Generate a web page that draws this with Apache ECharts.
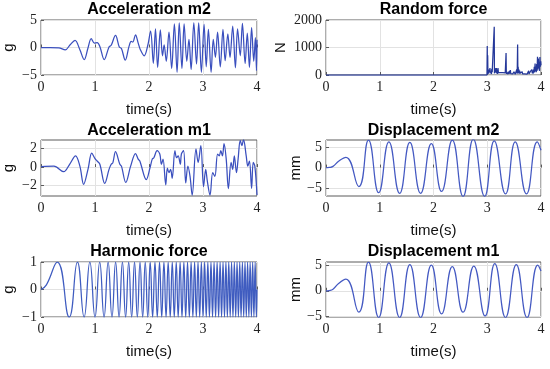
<!DOCTYPE html>
<html><head><meta charset="utf-8">
<script src="https://cdn.jsdelivr.net/npm/echarts@6/dist/echarts.min.js"></script>
<style>html,body{margin:0;padding:0;background:#fff}#c{width:550px;height:369px}</style>
</head><body><div id="c"></div>
<script>
// ---------------- data ----------------
const timeTicks = [0, 1, 2, 3, 4];

const accM2 = [[0,0],[0.17,0],[0.33,-0.05],[0.45,-0.43],[0.54,0.5],[0.63,1.3],[0.72,-0.4],[0.80,-2.2],[0.87,-0.1],[0.93,1.6],[0.99,0.8],[1.04,0.9],[1.09,0.2],[1.17,-2.2],[1.26,0.1],[1.30,0.4],[1.38,2.2],[1.45,0.1],[1.49,-0.2],[1.56,-2.3],[1.63,0.2],[1.67,1.1],[1.70,1.0],[1.75,2.3],[1.80,0.8],[1.84,-0.4],[1.91,-1.5],[1.98,0.5],
 [2.03,3.0],[2.08,-2.9],[2.12,3.4],[2.16,-3.6],[2.21,3.2],[2.25,-1.5],[2.28,0.5],[2.32,-2.5],[2.37,2.8],[2.42,-3.8],[2.47,4.3],[2.52,-4.5],[2.56,4.5],[2.61,-3.8],[2.65,4.3],[2.70,-2.5],[2.74,1.5],[2.78,-4.0],[2.83,4.5],[2.88,-3.0],[2.92,4.5],[2.97,-4.5],[3.02,4.2],[3.06,-3.5],[3.10,3.3],[3.15,-4.5],[3.19,1.5],[3.23,-1.8],[3.27,2.8],[3.32,-3.5],[3.37,3.3],[3.41,-2.4],[3.46,2.5],[3.50,-1.8],[3.55,3.9],[3.60,-3.7],[3.64,3.4],[3.69,-1.5],[3.73,4.4],[3.78,-2.9],[3.82,2.6],[3.86,-3.6],[3.90,3.6],[3.94,-2.5],[3.97,1.8],[3.99,-4.2],[4.0,1.4]];

const accM1 = [[0,0.05],[0.24,0.1],[0.42,-0.5],[0.53,0.3],[0.64,1.2],[0.72,0.1],[0.79,-1.85],[0.87,-0.25],[0.94,1.5],[1.0,0.9],[1.04,0.65],[1.09,0.3],[1.18,-1.75],[1.26,-0.25],[1.30,0.3],[1.33,0.45],[1.38,1.65],[1.46,0.3],[1.49,0.1],[1.57,-1.65],[1.66,0.1],[1.75,1.45],[1.80,0.85],[1.83,0.65],[1.95,-1.35],[2.02,-0.05],[2.06,0.85],[2.09,1.0],[2.15,1.75],[2.20,1.4],[2.23,0.3],[2.26,0.85],[2.31,-1.9],[2.34,-0.1],[2.37,-0.6],[2.40,-0.25],[2.43,-1.2],[2.48,1.75],[2.51,1.0],[2.54,1.2],[2.58,0.3],[2.60,1.4],[2.64,1.75],[2.68,-1.7],[2.72,0.1],[2.76,-1.0],[2.80,-3.0],[2.87,1.95],[2.91,0.5],[2.96,2.3],[3.01,-2.1],[3.05,-0.25],[3.08,-1.5],[3.13,-3.0],[3.18,-0.6],[3.22,-1.0],[3.27,1.4],[3.30,1.2],[3.33,1.75],[3.36,1.2],[3.39,2.5],[3.43,0.85],[3.47,-2.3],[3.52,0.5],[3.55,-0.25],[3.58,1.2],[3.62,-0.6],[3.65,0.85],[3.69,2.85],[3.72,2.3],[3.75,2.95],[3.80,1.2],[3.83,0.1],[3.86,0.65],[3.90,-2.3],[3.93,0.5],[3.96,0.1],[4.0,-3.0]];

const randomForce = [[0,0],[2.995,0],[3.0,1050],[3.004,80],[3.008,720],[3.013,40],[3.02,150],[3.028,60],[3.035,200],[3.042,90],[3.05,250],[3.057,120],[3.063,60],[3.07,180],[3.078,40],[3.085,230],[3.092,100],[3.1,60],[3.107,150],[3.115,50],[3.122,120],[3.13,1750],[3.134,60],[3.14,250],[3.147,100],[3.155,240],[3.162,80],[3.17,250],[3.177,60],[3.185,200],[3.192,40],[3.2,250],[3.207,90],[3.215,130],[3.222,40],[3.23,110],[3.237,60],[3.245,90],[3.252,30],[3.26,120],[3.267,50],[3.275,160],[3.282,40],[3.29,90],[3.297,30],[3.305,100],[3.312,60],[3.32,150],[3.327,40],[3.335,80],[3.342,30],[3.35,800],[3.355,40],[3.362,120],[3.37,50],[3.377,90],[3.385,30],[3.392,60],[3.4,120],[3.407,40],[3.415,150],[3.422,60],[3.43,180],[3.437,50],[3.445,90],[3.452,30],[3.46,60],[3.467,100],[3.475,40],[3.482,70],[3.49,30],[3.497,120],[3.505,50],[3.512,80],[3.52,30],[3.527,90],[3.535,40],[3.542,70],[3.55,200],[3.557,50],[3.565,1110],[3.57,60],[3.575,300],[3.582,80],[3.59,200],[3.597,50],[3.605,150],[3.612,60],[3.62,130],[3.627,40],[3.635,100],[3.642,30],[3.65,120],[3.657,40],[3.665,90],[3.672,30],[3.68,60],[3.687,100],[3.695,40],[3.702,70],[3.71,30],[3.717,90],[3.725,40],[3.732,60],[3.74,30],[3.747,80],[3.755,40],[3.762,60],[3.77,150],[3.777,40],[3.785,90],[3.792,30],[3.8,120],[3.807,50],[3.815,180],[3.822,60],[3.83,200],[3.837,70],[3.845,150],[3.852,50],[3.86,200],[3.867,80],[3.875,300],[3.882,100],[3.89,420],[3.897,150],[3.905,250],[3.912,100],[3.92,400],[3.927,150],[3.935,660],[3.942,200],[3.95,600],[3.957,250],[3.965,450],[3.972,150],[3.98,650],[3.987,300],[3.995,500],[4.0,350]];

const dispM2 = [[0,0],[0.06,0.05],[0.13,0.3],[0.24,1.6],[0.37,2.5],[0.61,-4.6],[0.79,6.7],[0.98,-6.1],[1.17,6.25],[1.37,-6.25],[1.56,6.1],[1.76,-6.25],[1.96,5.8],[2.15,-5.8],[2.35,6.7],[2.55,-7.0],[2.74,6.9],[2.95,-7.0],[3.13,6.5],[3.34,-6.4],[3.52,6.25],[3.73,-6.4],[3.93,6.25],[4.0,4.2]];

const dispM1 = [[0,0],[0.06,0.05],[0.13,0.3],[0.24,1.5],[0.37,2.3],[0.61,-4.25],[0.79,5.7],[0.98,-5.3],[1.17,5.55],[1.37,-5.3],[1.56,5.2],[1.76,-5.3],[1.96,5.1],[2.15,-4.6],[2.35,4.8],[2.55,-4.25],[2.75,4.9],[2.96,-5.0],[3.14,5.4],[3.34,-5.3],[3.54,5.2],[3.74,-5.3],[3.94,5.1],[4.0,3.9]];

const harmonicT = [0,0.1,
 0.3015,0.5222,0.6742,0.7977,0.9045,1.0,1.0871,1.1677,1.2432,1.3143,
 1.3817,1.4460,1.5076,1.5667,1.6237,1.6787,1.7321,1.7838,1.8340,1.8829,
 1.9306,1.9772,2.0226,2.0671,2.1106,2.1532,2.1950,2.2361,2.2764,2.3159,
 2.3549,2.3932,2.4309,2.4680,2.5045,2.5406,2.5761,2.6112,2.6458,2.6799,
 2.7136,2.7469,2.7798,2.8123,2.8445,2.8762,2.9077,2.9388,2.9695,3.0,
 3.0301,3.0600,3.0896,3.1189,3.1479,3.1766,3.2051,3.2333,3.2613,3.2891,
 3.3166,3.3439,3.3710,3.3979,3.4245,3.4510,3.4772,3.5033,3.5291,3.5548,
 3.5803,3.6056,3.6307,3.6556,3.6804,3.7050,3.7295,3.7538,3.7779,3.8019,
 3.8257,3.8494,3.8730,3.8964,3.9197,3.9428,3.9658,3.9886,4.0];
const harmonicV = [0,0.17,
 1,-1,1,-1,1,-1,1,-1,1,-1,
 1,-1,1,-1,1,-1,1,-1,1,-1,
 1,-1,1,-1,1,-1,1,-1,1,-1,
 1,-1,1,-1,1,-1,1,-1,1,-1,
 1,-1,1,-1,1,-1,1,-1,1,-1,
 1,-1,1,-1,1,-1,1,-1,1,-1,
 1,-1,1,-1,1,-1,1,-1,1,-1,
 1,-1,1,-1,1,-1,1,-1,1,-1,
 1,-1,1,-1,1,-1,1,-1,0];

// y tick labels per panel
const ticksAccM2 = [-5, 0, 5];
const ticksRandom = [0, 1000, 2000];
const ticksAccM1 = [-2, 0, 2];
const ticksDispM2 = [-5, 0, 5];
const ticksHarm = [-1, 0, 1];
const ticksDispM1 = [-5, 0, 5];

// ---------------- layout / style ----------------
const cols = [{left: 41, width: 216}, {left: 326, width: 215}];
const rows = [{top: 20, height: 55, title: 10}, {top: 140, height: 56, title: 131}, {top: 262, height: 55, title: 252}];

const panels = [
  {title: 'Acceleration m2', yName: 'g', data: accM2, min: -5, max: 5, ticks: ticksAccM2, c: 0, r: 0, color: '#3a4fbe', smooth: 0.35, gap: 25},
  {title: 'Random force', yName: 'N', data: randomForce, min: 0, max: 2000, ticks: ticksRandom, c: 1, r: 0, color: '#25389a', smooth: false, gap: 38},
  {title: 'Acceleration m1', yName: 'g', data: accM1, min: -3.1, max: 2.9, ticks: ticksAccM1, c: 0, r: 1, color: '#3a4fbe', smooth: 0.35, gap: 25},
  {title: 'Displacement m2', yName: 'mm', data: dispM2, min: -6.9, max: 6.7, ticks: ticksDispM2, c: 1, r: 1, color: '#4459c2', smooth: 0.5, gap: 22},
  {title: 'Harmonic force', yName: 'g', data: harmonicT.map((t, i) => [t, harmonicV[i]]), min: -1, max: 1, ticks: ticksHarm, c: 0, r: 2, color: '#3f5cc0', smooth: 0.5, gap: 25},
  {title: 'Displacement m1', yName: 'mm', data: dispM1, min: -5.2, max: 5.7, ticks: ticksDispM1, c: 1, r: 2, color: '#4459c2', smooth: 0.5, gap: 22}
];

const serif = 'Liberation Serif';
const sans = 'Liberation Sans';
const boxColor = '#5a5a5a';
const fmt = v => String(v).replace('-', '\u2212');

const grid = [], xAxis = [], yAxis = [], series = [], graphic = [];
panels.forEach((p, i) => {
  const col = cols[p.c], row = rows[p.r];
  grid.push({left: col.left, top: row.top, width: col.width, height: row.height,
    show: true, borderColor: boxColor, borderWidth: 1, backgroundColor: 'transparent', containLabel: false});
  xAxis.push({type: 'value', gridIndex: i, min: 0, max: 4, interval: 1,
    name: 'time(s)', nameLocation: 'middle', nameGap: 27,
    nameTextStyle: {fontFamily: sans, fontSize: 15, color: '#111'},
    axisLine: {show: false},
    axisTick: {show: true, inside: true, length: 3, lineStyle: {color: boxColor}},
    axisLabel: {fontFamily: serif, fontSize: 14, color: '#222', margin: 5, formatter: fmt},
    splitLine: {show: true, lineStyle: {color: '#e2e2e2', width: 1}}
  });
  yAxis.push({type: 'value', gridIndex: i, min: p.min, max: p.max,
    name: p.yName, nameLocation: 'middle', nameGap: p.gap, nameRotate: 90,
    nameTextStyle: {fontFamily: sans, fontSize: 15, color: '#111'},
    axisLine: {show: false},
    axisTick: {show: true, inside: true, length: 3, customValues: p.ticks, lineStyle: {color: boxColor}},
    axisLabel: {fontFamily: serif, fontSize: 14, color: '#222', margin: 4, customValues: p.ticks, formatter: fmt},
    splitLine: {show: true, lineStyle: {color: '#e2e2e2', width: 1}}
  });
  series.push({type: 'line', xAxisIndex: i, yAxisIndex: i, data: p.data, smooth: p.smooth,
    showSymbol: false, symbol: 'none', clip: true,
    lineStyle: {color: p.color, width: 1.25}, animation: false});
  graphic.push({type: 'text', x: col.left + col.width / 2, y: row.title,
    style: {text: p.title, font: 'bold 16px "Liberation Sans"', fill: '#000', textAlign: 'center', textVerticalAlign: 'middle'}});
});

const chart = echarts.init(document.getElementById('c'), null, {renderer: 'canvas'});
chart.setOption({animation: false, grid, xAxis, yAxis, series, graphic});
</script>
</body></html>
